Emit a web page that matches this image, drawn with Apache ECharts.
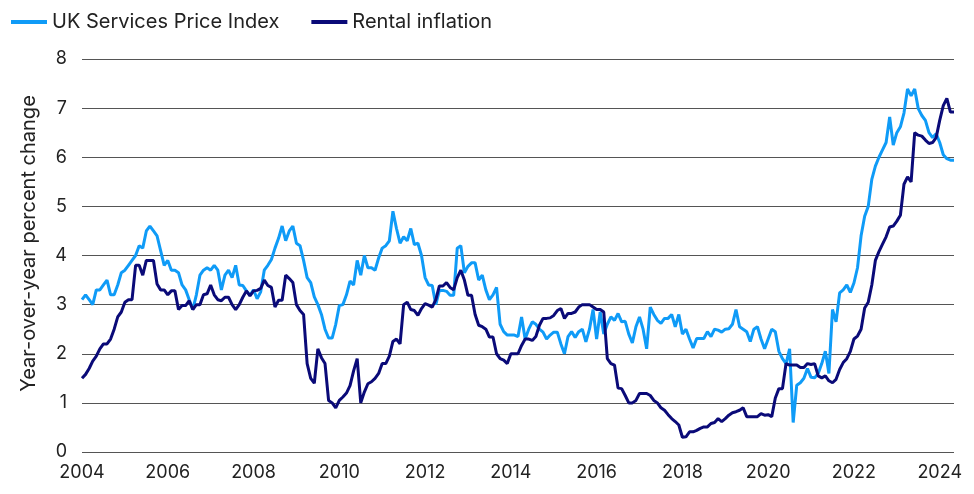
<!DOCTYPE html>
<html>
<head>
<meta charset="utf-8">
<script src="https://cdn.jsdelivr.net/npm/echarts@6/dist/echarts.min.js"></script>
<style>
  html, body { margin: 0; padding: 0; background: #fff; }
  #chart { width: 974px; height: 494px; }
</style>
</head>
<body>
<div id="chart"></div>
<script>
// monthly, Jan 2004 .. May 2024
const startYear = 2004
const nMonths = 245

const spiValues = [
  3.1, 3.2, 3.1, 3.0, 3.3, 3.3, 3.4, 3.5, 3.2, 3.2, 3.4, 3.65,
  3.7, 3.8, 3.9, 4.0, 4.2, 4.15, 4.5, 4.6, 4.5, 4.4, 4.1, 3.8,
  3.9, 3.7, 3.7, 3.65, 3.4, 3.3, 3.1, 2.9, 3.2, 3.6, 3.7, 3.75,
  3.7, 3.8, 3.7, 3.3, 3.6, 3.7, 3.55, 3.8, 3.4, 3.39, 3.28, 3.19,
  3.3, 3.12, 3.26, 3.7, 3.8, 3.92, 4.15, 4.35, 4.6, 4.3, 4.5, 4.6,
  4.25, 4.2, 3.9, 3.55, 3.45, 3.16, 3.0, 2.8, 2.5, 2.32, 2.32, 2.6,
  2.98, 3.0, 3.2, 3.48, 3.4, 3.9, 3.6, 4.0, 3.75, 3.75, 3.7, 3.95,
  4.15, 4.2, 4.3, 4.9, 4.55, 4.25, 4.38, 4.3, 4.55, 4.22, 4.25, 4.0,
  3.55, 3.4, 3.39, 3.0, 3.29, 3.29, 3.27, 3.19, 3.19, 4.15, 4.2, 3.65,
  3.78, 3.85, 3.85, 3.5, 3.6, 3.3, 3.1, 3.2, 3.35, 2.6, 2.45, 2.38,
  2.38, 2.38, 2.35, 2.75, 2.3, 2.5, 2.65, 2.6, 2.5, 2.44, 2.3, 2.38,
  2.44, 2.44, 2.2, 2.0, 2.35, 2.45, 2.33, 2.45, 2.5, 2.24, 2.5, 2.9,
  2.3, 2.85, 2.4, 2.6, 2.75, 2.68, 2.82, 2.65, 2.66, 2.4, 2.22, 2.55,
  2.75, 2.5, 2.1, 2.95, 2.8, 2.68, 2.62, 2.72, 2.72, 2.8, 2.55, 2.8,
  2.4, 2.5, 2.3, 2.12, 2.31, 2.31, 2.31, 2.45, 2.35, 2.5, 2.48, 2.44,
  2.5, 2.51, 2.6, 2.9, 2.55, 2.5, 2.45, 2.25, 2.5, 2.55, 2.3, 2.1,
  2.3, 2.5, 2.45, 2.05, 1.9, 1.8, 2.1, 0.6, 1.36, 1.41, 1.5, 1.7,
  1.52, 1.51, 1.6, 1.8, 2.05, 1.6, 2.9, 2.65, 3.24, 3.3, 3.4, 3.25,
  3.44, 3.75, 4.4, 4.8, 5.0, 5.55, 5.82, 6.0, 6.15, 6.3, 6.82, 6.25,
  6.5, 6.62, 6.9, 7.39, 7.25, 7.39, 6.99, 6.85, 6.75, 6.5, 6.4, 6.48,
  6.3, 6.05, 5.97, 5.94, 5.94
]

const rentValues = [
  1.5, 1.58, 1.7, 1.85, 1.95, 2.1, 2.2, 2.2, 2.3, 2.5, 2.75, 2.85,
  3.05, 3.1, 3.1, 3.8, 3.8, 3.6, 3.9, 3.9, 3.9, 3.42, 3.3, 3.3,
  3.2, 3.28, 3.28, 2.9, 2.98, 2.98, 3.08, 2.9, 3.0, 3.0, 3.2, 3.22,
  3.4, 3.2, 3.1, 3.08, 3.15, 3.15, 3.0, 2.9, 3.0, 3.15, 3.28, 3.18,
  3.28, 3.29, 3.33, 3.5, 3.39, 3.35, 2.95, 3.09, 3.09, 3.6, 3.53, 3.45,
  3.0, 2.88, 2.8, 1.8, 1.5, 1.4, 2.1, 1.92, 1.8, 1.05, 1.0, 0.9,
  1.05, 1.12, 1.2, 1.35, 1.65, 1.9, 1.0, 1.22, 1.39, 1.43, 1.5, 1.6,
  1.8, 1.8, 1.95, 2.25, 2.3, 2.2, 3.0, 3.05, 2.9, 2.88, 2.78, 2.92,
  3.02, 2.99, 2.95, 3.1, 3.38, 3.38, 3.45, 3.35, 3.3, 3.55, 3.7, 3.5,
  3.19, 3.19, 2.8, 2.58, 2.55, 2.5, 2.34, 2.34, 2.0, 1.9, 1.87, 1.8,
  2.0, 2.0, 2.0, 2.17, 2.3, 2.3, 2.27, 2.35, 2.58, 2.72, 2.72, 2.73,
  2.78, 2.88, 2.92, 2.72, 2.82, 2.82, 2.85, 2.95, 3.0, 3.0, 3.0, 2.95,
  2.9, 2.9, 2.85, 1.9, 1.8, 1.77, 1.3, 1.29, 1.15, 1.0, 1.0, 1.05,
  1.19, 1.19, 1.19, 1.15, 1.05, 1.0, 0.9, 0.85, 0.76, 0.68, 0.62, 0.55,
  0.3, 0.31, 0.41, 0.41, 0.44, 0.48, 0.51, 0.51, 0.58, 0.6, 0.68, 0.62,
  0.68, 0.75, 0.8, 0.82, 0.85, 0.9, 0.72, 0.72, 0.72, 0.72, 0.78, 0.75,
  0.76, 0.72, 1.1, 1.29, 1.29, 1.8, 1.77, 1.77, 1.77, 1.72, 1.72, 1.8,
  1.78, 1.8, 1.55, 1.51, 1.55, 1.45, 1.41, 1.48, 1.68, 1.82, 1.9, 2.05,
  2.3, 2.36, 2.5, 2.93, 3.05, 3.4, 3.9, 4.08, 4.23, 4.38, 4.58, 4.6,
  4.7, 4.82, 5.45, 5.6, 5.5, 6.5, 6.45, 6.43, 6.35, 6.28, 6.3, 6.4,
  6.75, 7.05, 7.2, 6.92, 6.92
]

const months = []
for (let i = 0; i < nMonths; i++) {
  const y = startYear + Math.floor(i / 12)
  const m = (i % 12) + 1
  months.push(y + '-' + (m < 10 ? '0' + m : m))
}

const nameA = 'UK Services Price Index'
const nameB = 'Rental inflation'
const colorA = '#0f9bf7'
const colorB = '#0a0a78'
const font = 'Inter, "Noto Sans", sans-serif'

const chart = echarts.init(document.getElementById('chart'))
chart.setOption({
  animation: false,
  textStyle: { fontFamily: font },
  legend: {
    left: 6,
    top: 7,
    itemWidth: 36,
    itemHeight: 4,
    itemGap: 32,
    icon: 'rect',
    textStyle: { fontSize: 20, color: '#222', fontFamily: font },
    data: [nameA, nameB]
  },
  grid: { left: 82, right: 20, top: 59, bottom: 42 },
  xAxis: {
    type: 'category',
    data: months,
    boundaryGap: false,
    axisLine: { show: false },
    axisTick: { show: false },
    axisLabel: {
      interval: (idx) => idx % 24 === 0,
      formatter: (v) => v.slice(0, 4),
      color: '#222',
      fontSize: 18,
      margin: 12,
      fontFamily: font
    },
    splitLine: { show: false }
  },
  yAxis: {
    type: 'value',
    min: 0,
    max: 8,
    interval: 1,
    name: 'Year-over-year percent change',
    nameLocation: 'middle',
    nameGap: 43,
    nameTextStyle: { fontSize: 20, color: '#222', fontFamily: font, padding: [0, 0, 0, 24] },
    axisLine: { show: false },
    axisTick: { show: false },
    axisLabel: { color: '#222', fontSize: 18, margin: 15, fontFamily: font },
    splitLine: { lineStyle: { color: '#555', width: 1 } }
  },
  series: [
    {
      name: nameA,
      type: 'line',
      data: spiValues,
      showSymbol: false,
      color: colorA,
      lineStyle: { color: colorA, width: 3 },
      z: 2
    },
    {
      name: nameB,
      type: 'line',
      data: rentValues,
      showSymbol: false,
      color: colorB,
      lineStyle: { color: colorB, width: 3 },
      z: 3
    }
  ]
})
</script>
</body>
</html>
